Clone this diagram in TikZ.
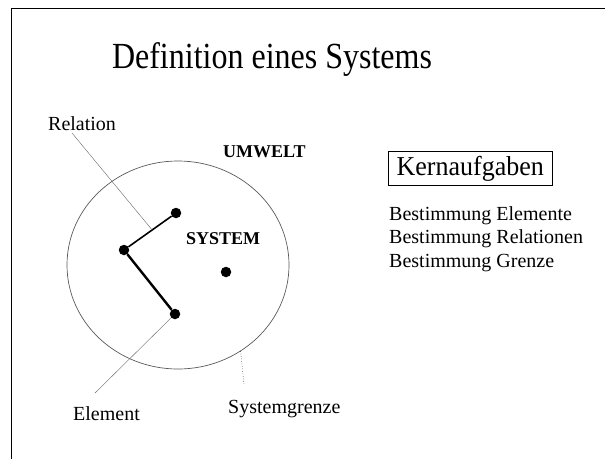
\documentclass[tikz,border=0pt]{standalone}
\usepackage{fontspec}
\setmainfont{Liberation Serif}
\usetikzlibrary{positioning}
\usetikzlibrary{shapes.geometric}

\tikzset{
  dot/.style={circle, fill=black, inner sep=0pt, minimum width=9.5pt, minimum height=10.5pt},
  lbl/.style={anchor=base west, inner sep=0pt, font=\fontsize{20}{24}\selectfont},
  bold/.style={anchor=base west, inner sep=0pt, font=\fontsize{18}{22}\selectfont\bfseries},
  leader/.style={gray!80!black, line width=0.4pt}
}

\begin{document}
\begin{tikzpicture}[x=1pt, y=-1pt]
\useasboundingbox (0,0) rectangle (605,459);
% frame
\draw[line width=1pt] (11,459) -- (11,8) -- (605,8);
% title
\node[anchor=base, inner sep=0pt, font=\fontsize{32}{38}\selectfont] (title) at (272,68) {\scalebox{1}[1.15]{Definition eines Systems}};
% system
\node[draw, gray!70!black, line width=0.7pt, ellipse, minimum width=222pt, minimum height=208pt, inner sep=0pt] (sys) at (178,265) {};
\node[bold] (umwelt) at (223,157) {UMWELT};
\node[bold] (system) at (186,244) {SYSTEM};
\node[dot] (e1) at (176,213) {};
\node[dot] (e2) at (124,250) {};
\node[dot] (e3) at (226,272) {};
\node[dot] (e4) at (175,314) {};
\draw[line width=1.6pt] (e2) -- (e1) coordinate[pos=0.55] (rel);
\draw[line width=2.4pt] (e2) -- (e4);
% labels
\node[lbl] (relation) at (48,130) {Relation};
\node[lbl] (element) at (73,420) {Element};
\node[lbl] (grenze) at (228,413) {Systemgrenze};
\coordinate (g) at (244,384);
\draw[leader] (72,133) -- (rel);
\draw[leader] (95,393) -- (e4);
\draw[black, line width=0.5pt, dotted] (sys.-54) -- (g);
% tasks
\node[draw, anchor=base west, inner sep=0pt, minimum width=164pt, minimum height=34pt, font=\fontsize{26}{30}\selectfont] (kern) at (388,175) {\scalebox{1}[1.05]{Kernaufgaben}};
\node[lbl] (t1) at (389,220) {Bestimmung Elemente};
\node[lbl] (t2) at (389,243) {Bestimmung Relationen};
\node[lbl] (t3) at (389,267) {Bestimmung Grenze};
\end{tikzpicture}
\end{document}
